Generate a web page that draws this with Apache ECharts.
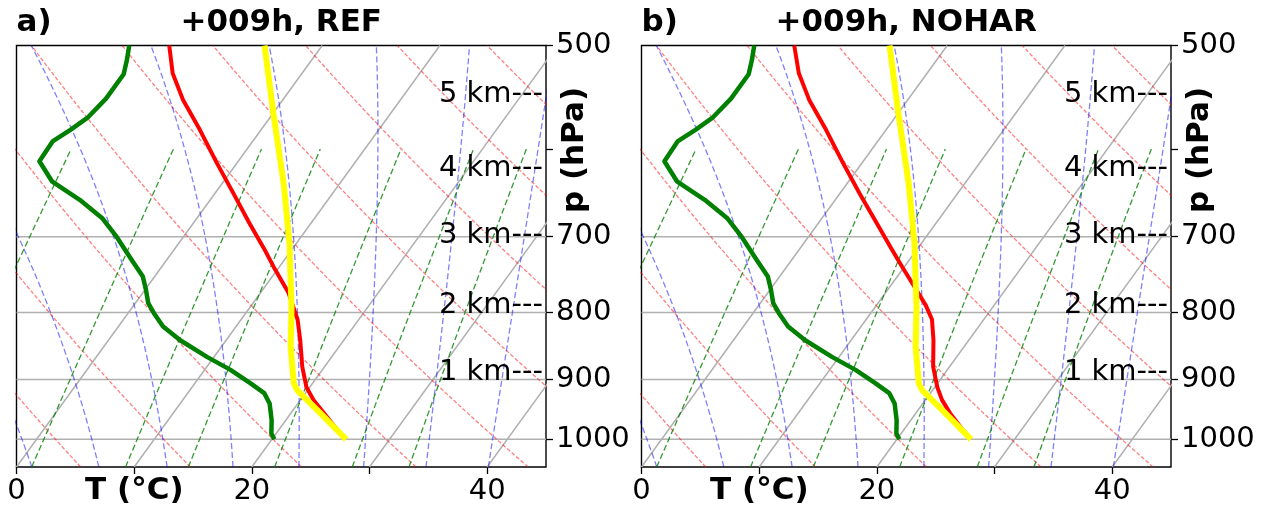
<!DOCTYPE html>
<html><head><meta charset="utf-8">
<script src="https://cdn.jsdelivr.net/npm/echarts@6/dist/echarts.min.js"></script>
<style>html,body{margin:0;padding:0;background:#fff}#c{width:1269px;height:510px}</style>
</head><body><div id="c"></div>
<script>
// ---------------- data ----------------
const panelTitles = ['+009h, REF', '+009h, NOHAR'];
const panelLetters = ['a)', 'b)'];
const xTicks = [0, 10, 20, 30, 40];
const xLabels = [0, 20, 40];
const pTicks = [500, 600, 700, 800, 900, 1000];
const pLabels = [500, 700, 800, 900, 1000];
const pGrid = [700, 800, 900, 1000];
const isotherms = [0, 10, 20, 30, 40];
const dryTheta1000 = [1.6, 10.8, 20.1, 29.7, 39.1, 48.5, 58.1, 67.6, 76.9];   // degC at 1000 hPa
const moistT1050 = [1.3, 7.0, 12.8, 18.4, 24.0, 29.5, 34.8, 40.1];            // degC at 1050 hPa
const mixRatio = [0.4, 1, 2, 4, 7, 10, 16, 24, 32];                            // g/kg
const heightLabels = ['1 km---', '2 km---', '3 km---', '4 km---', '5 km---'];
const heightP = [884, 786, 695, 617.5, 542];

// panel a (REF)
const refTempP = [1000, 955, 933, 912, 880, 840, 810, 773, 738, 714, 684, 649, 615, 580, 550, 525, 500];
const refTempT = [26.2, 22.8, 21.1, 19.7, 18.1, 16.3, 14.8, 12.4, 9.5, 7.5, 4.8, 1.6, -1.7, -5.2, -8.5, -11.0, -13.0];
const refDewP = [1000, 990, 967, 939, 922, 906, 885, 865, 840, 820, 801, 787, 769, 751, 729, 701, 678, 656, 635, 613, 592, 580, 568, 549, 526, 513, 500];
const refDewT = [20.2, 19.6, 18.8, 17.6, 16.5, 14.7, 12.2, 9.4, 6.1, 3.8, 2.2, 1.1, 0.1, -1.0, -3.0, -5.6, -8.0, -11.1, -14.6, -16.9, -17.0, -16.2, -15.5, -15.1, -15.1, -15.7, -16.4];
const refParcelP = [1000, 955, 917, 906, 850, 792, 750, 708, 637, 563, 500];
const refParcelT = [26.3, 22.5, 19.1, 18.4, 15.9, 13.5, 11.5, 9.4, 5.2, 0.0, -4.9];

// panel b (NOHAR)
const noharTempP = [1000, 955, 933, 912, 880, 840, 810, 790, 773, 738, 714, 684, 649, 615, 580, 550, 525, 500];
const noharTempT = [26.2, 22.9, 21.4, 20.2, 18.6, 17.0, 15.6, 14.2, 12.8, 9.8, 7.7, 5.0, 1.7, -1.6, -5.1, -8.4, -10.9, -13.0];
const noharDewP = [1000, 990, 967, 939, 922, 906, 885, 865, 840, 820, 801, 787, 769, 751, 729, 701, 678, 656, 635, 613, 592, 580, 568, 549, 526, 513, 500];
const noharDewT = [20.2, 19.6, 18.8, 17.6, 16.5, 14.7, 12.2, 9.4, 6.1, 3.8, 2.2, 1.1, 0.1, -1.0, -3.0, -5.6, -8.0, -11.1, -14.6, -16.9, -17.0, -16.2, -15.5, -15.1, -15.1, -15.7, -16.4];
const noharParcelP = [1000, 955, 917, 906, 850, 792, 750, 708, 637, 563, 500];
const noharParcelT = [26.3, 22.5, 19.1, 18.4, 15.9, 13.5, 11.5, 9.4, 5.2, 0.0, -4.9];

// ---------------- skew-T projection ----------------
const PBOT = 1050, PTOP = 500, TMIN = 0, TMAX = 45;
const SKEW = (TMAX - TMIN) * Math.tan(30 * Math.PI / 180);
function yFrac(p) { return Math.log(PBOT / p) / Math.log(PBOT / PTOP); }
function pt(T, p) { return [T + SKEW * yFrac(p), Math.log(p)]; }
const BRK = ['-', '-'];

const samplesP = [];
for (let p = PBOT; p >= PTOP - 0.01; p -= 5) samplesP.push(p);

function dryLines() {
  const d = [];
  dryTheta1000.forEach(th => {
    samplesP.forEach(p => { d.push(pt((th + 273.15) * Math.pow(p / 1000, 0.2857) - 273.15, p)); });
    d.push(BRK);
  });
  return d;
}
const Rd = 287.04, Cp = 1004.6, Lv = 2.501e6, EPS = 0.622;
function es(TK) { const t = TK - 273.15; return 6.112 * Math.exp(17.67 * t / (t + 243.5)); }
function dTdp(p, T) {
  const e = es(T); const rs = EPS * e / (p - e);
  return (Rd * T + Lv * rs) / (Cp + Lv * Lv * rs * EPS / (Rd * T * T)) / p;
}
function moistLines() {
  const d = [];
  moistT1050.forEach(t0 => {
    let T = t0 + 273.15, p = PBOT;
    d.push(pt(T - 273.15, p));
    const h = -1;
    while (p > PTOP + 0.001) {
      const k1 = dTdp(p, T), k2 = dTdp(p + h / 2, T + h / 2 * k1), k3 = dTdp(p + h / 2, T + h / 2 * k2), k4 = dTdp(p + h, T + h * k3);
      T += h / 6 * (k1 + 2 * k2 + 2 * k3 + k4); p += h;
      if (Math.round(p) % 5 === 0) d.push(pt(T - 273.15, p));
    }
    d.push(BRK);
  });
  return d;
}
function mixLines() {
  const d = [];
  mixRatio.forEach(w => {
    const ww = w / 1000;
    samplesP.forEach(p => {
      if (p < 600) return;
      const e = p * ww / (EPS + ww); const l = Math.log(e / 6.112);
      d.push(pt(243.5 * l / (17.67 - l), p));
    });
    d.push(BRK);
  });
  return d;
}
function isoLines() {
  const d = [];
  isotherms.forEach(T => { d.push(pt(T, PBOT)); d.push(pt(T, PTOP)); d.push(BRK); });
  return d;
}
function gridLines() {
  const d = [];
  pGrid.forEach(p => { d.push([TMIN, Math.log(p)]); d.push([TMAX, Math.log(p)]); d.push(BRK); });
  return d;
}
function profile(P, T) { return P.map((p, i) => pt(T[i], p)); }

const FONT = '"DejaVu Sans", "Liberation Sans", sans-serif';
const panels = [
  { left: 16.5, temp: [refTempP, refTempT], dew: [refDewP, refDewT], parcel: [refParcelP, refParcelT] },
  { left: 641.5, temp: [noharTempP, noharTempT], dew: [noharDewP, noharDewT], parcel: [noharParcelP, noharParcelT] }
];
const GW = 529.5, GTOP = 45.5, GH = 421.5;

const grids = [], xAxes = [], yAxes = [], series = [], graphics = [];
function ln(g, data, color, width, type, z) {
  series.push({ type: 'line', xAxisIndex: g, yAxisIndex: g, data, symbol: 'none', showSymbol: false, silent: true,
    connectNulls: false, clip: true, z, lineStyle: { color, width, type, cap: 'butt', join: 'round' }, animation: false });
}
panels.forEach((pn, g) => {
  grids.push({ left: pn.left, top: GTOP, width: GW, height: GH, show: true, borderColor: '#000', borderWidth: 1.4, backgroundColor: 'transparent', containLabel: false });
  xAxes.push({ type: 'value', gridIndex: g, position: 'bottom', min: TMIN, max: TMAX, interval: 10,
    axisLine: { show: false, onZero: false }, splitLine: { show: false },
    axisTick: { show: true, length: 7, lineStyle: { color: '#000', width: 1.3 }, customValues: xTicks },
    axisLabel: { margin: 10, color: '#000', fontSize: 29, fontFamily: FONT, customValues: xLabels, formatter: v => String(v) } });
  yAxes.push({ type: 'value', gridIndex: g, position: 'right', inverse: true, min: Math.log(PTOP), max: Math.log(PBOT),
    axisLine: { show: false, onZero: false }, splitLine: { show: false },
    axisTick: { show: true, length: 7, lineStyle: { color: '#000', width: 1.3 }, customValues: pTicks.map(Math.log) },
    axisLabel: { margin: 10, padding: [4, 0, 0, 0], color: '#000', fontSize: 29, fontFamily: FONT, customValues: pLabels.map(Math.log), formatter: v => String(Math.round(Math.exp(v))) } });
  ln(g, isoLines(), '#b0b0b0', 1.5, 'solid', 1);
  ln(g, gridLines(), '#b0b0b0', 1.5, 'solid', 1);
  ln(g, dryLines(), 'rgba(255,0,0,0.5)', 1.3, [4, 2], 2);
  ln(g, moistLines(), 'rgba(0,0,255,0.5)', 1.3, [6, 3], 2);
  ln(g, mixLines(), 'rgba(0,128,0,0.8)', 1.3, [6, 3], 2);
  ln(g, profile(pn.temp[0], pn.temp[1]), '#ff0000', 4, 'solid', 5);
  ln(g, profile(pn.dew[0], pn.dew[1]), '#008000', 4.5, 'solid', 5);
  ln(g, profile(pn.parcel[0], pn.parcel[1]), '#ffff00', 6, 'solid', 6);
  series.push({ type: 'custom', xAxisIndex: g, yAxisIndex: g, silent: true, animation: false, z: 7, clip: false,
    data: heightP.map((p, i) => ({ value: [TMAX, Math.log(p)], name: heightLabels[i] })),
    renderItem: (params, api) => {
      const c = api.coord([api.value(0), api.value(1)]);
      return { type: 'text', x: c[0] - 3, y: c[1] + 3, style: { text: heightLabels[params.dataIndex], font: '29px ' + FONT, fill: '#000', align: 'right', verticalAlign: 'middle' } };
    } });
  const cx = pn.left + GW / 2;
  graphics.push({ type: 'text', x: cx, y: 23, style: { text: panelTitles[g], font: 'bold 31px ' + FONT, fill: '#000', align: 'center', verticalAlign: 'middle' } });
  graphics.push({ type: 'text', x: pn.left, y: 23, style: { text: panelLetters[g], font: 'bold 31px ' + FONT, fill: '#000', align: 'left', verticalAlign: 'middle' } });
  graphics.push({ type: 'text', x: pn.left + 117.8, y: 491, style: { text: 'T (°C)', font: 'bold 31px ' + FONT, fill: '#000', align: 'center', verticalAlign: 'middle' } });
  graphics.push({ type: 'text', x: pn.left + GW + 29, y: 150, rotation: Math.PI / 2, style: { text: 'p (hPa)', font: 'bold 31px ' + FONT, fill: '#000', align: 'center', verticalAlign: 'middle' } });
});

const chart = echarts.init(document.getElementById('c'), null, { renderer: 'canvas' });
chart.setOption({ animation: false, backgroundColor: '#fff', grid: grids, xAxis: xAxes, yAxis: yAxes, series, graphic: graphics });
</script></body></html>
